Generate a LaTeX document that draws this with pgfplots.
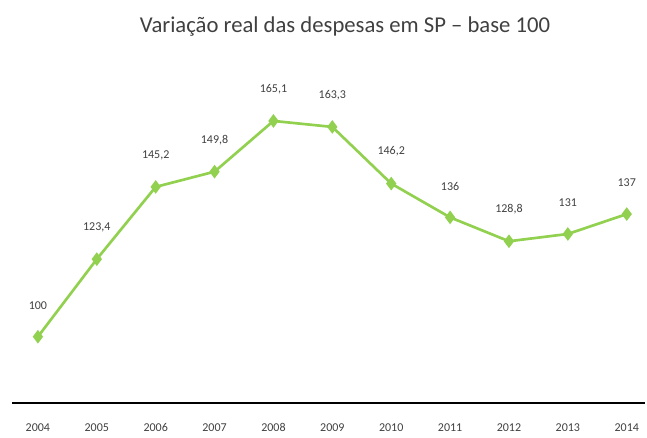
\documentclass[border=0pt]{standalone}
\usepackage{fontspec}
\setmainfont{Carlito}
\usepackage{pgfplots}
\pgfplotsset{compat=1.18}
\definecolor{linegreen}{RGB}{146,208,80}
\definecolor{labelgray}{RGB}{64,64,64}

\begin{document}
\begin{tikzpicture}
  \useasboundingbox (0pt,0pt) rectangle (485.25pt,328.5pt);
  \node[font=\fontsize{17}{19}\selectfont, text=labelgray] at (258.75pt,308.5pt) {Variação real das despesas em SP -- base 100};
  \begin{axis}[
    at={(9pt,26.25pt)}, anchor=south west,
    scale only axis,
    width=474.75pt, height=261pt,
    xmin=-0.44, xmax=10.31,
    ymin=80, ymax=185,
    axis y line=none,
    axis x line*=bottom,
    x axis line style={line width=2.2pt, -},
    xtick={0,...,10},
    xticklabels={2004,2005,2006,2007,2008,2009,2010,2011,2012,2013,2014},
    major tick length=0pt,
    xticklabel style={font=\fontsize{9}{10}\selectfont, text=labelgray, yshift=-12pt},
    clip=false,
    nodes near coords,
    nodes near coords style={font=\fontsize{9}{10}\selectfont, text=labelgray, anchor=south, yshift=16pt,
      /pgf/number format/.cd, fixed, precision=1, use comma, 1000 sep={}, assume math mode=true},
  ]
    \addplot[linegreen, line width=2pt, mark=diamond*, mark size=3.5pt,
      mark options={fill=linegreen, draw=linegreen}]
      coordinates {
        (0,100) (1,123.4) (2,145.2) (3,149.8) (4,165.1) (5,163.3)
        (6,146.2) (7,136.0) (8,128.8) (9,131.0) (10,137.0)
      };
  \end{axis}
\end{tikzpicture}
\end{document}
